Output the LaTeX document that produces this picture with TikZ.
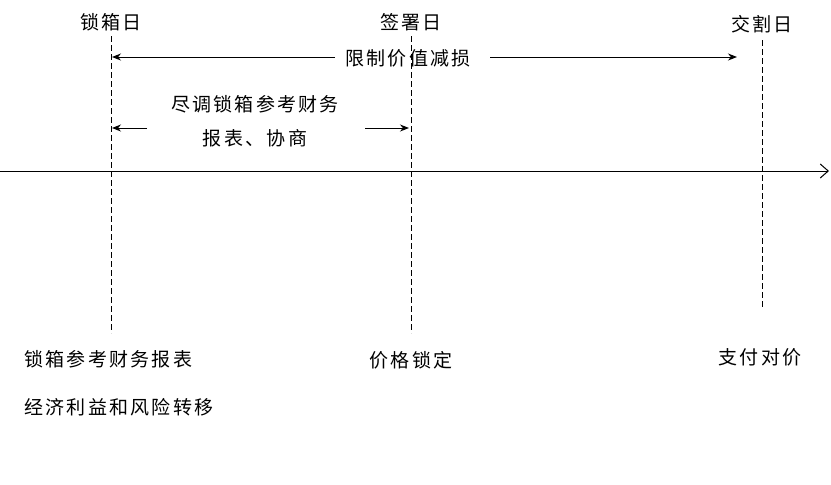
\documentclass[tikz,border=0pt]{standalone}
\usepackage{fontspec}
\newfontfamily\cjk[LetterSpace=12]{Noto Sans CJK SC}
\usetikzlibrary{arrows.meta}
\begin{document}
\begin{tikzpicture}[x=1pt,y=-1pt,
  lbl/.style={font=\cjk\fontsize{19}{22}\selectfont, inner sep=1pt},
  vline/.style={line width=1pt, dash pattern=on 6pt off 3pt},
  arr/.style={-{Stealth[length=9pt,width=7pt]}, line width=1pt}]
\useasboundingbox (0,0) rectangle (831,485);
\coordinate (axL) at (0,171);
\coordinate (axR) at (829,171);
\draw[-{Straight Barb[length=8pt,width=14pt]}, line width=1pt] (axL) -- (axR);
\coordinate (a1) at (111,36); \coordinate (a2) at (111,333);
\coordinate (b1) at (411,36); \coordinate (b2) at (411,333);
\coordinate (c1) at (762,40); \coordinate (c2) at (762,307);
\draw[vline] (a1) -- (a2);
\draw[vline] (b1) -- (b2);
\draw[vline] (c1) -- (c2);
\node[lbl] (d1) at (111,22) {锁箱日};
\node[lbl] (d2) at (411,22) {签署日};
\node[lbl] (d3) at (762,24) {交割日};
\node[lbl] (lim) at (408,58) {限制价值减损};
\coordinate (l1) at (335,57); \coordinate (l0) at (112,57);
\coordinate (r1) at (490,57); \coordinate (r0) at (737,57);
\draw[arr] (l1) -- (l0);
\draw[arr] (r1) -- (r0);
\node[lbl] (dd1) at (255,104) {尽调锁箱参考财务};
\node[lbl] (dd2) at (255,138) {报表、协商};
\coordinate (m1) at (147,128); \coordinate (m0) at (112,128);
\coordinate (n1) at (365,128); \coordinate (n0) at (409,128);
\draw[arr] (m1) -- (m0);
\draw[arr] (n1) -- (n0);
\node[lbl, anchor=west] (t1) at (23,359) {锁箱参考财务报表};
\node[lbl, anchor=west] (t2) at (23,407) {经济利益和风险转移};
\node[lbl] (t3) at (411,360) {价格锁定};
\node[lbl] (t4) at (760,357) {支付对价};
\end{tikzpicture}
\end{document}
